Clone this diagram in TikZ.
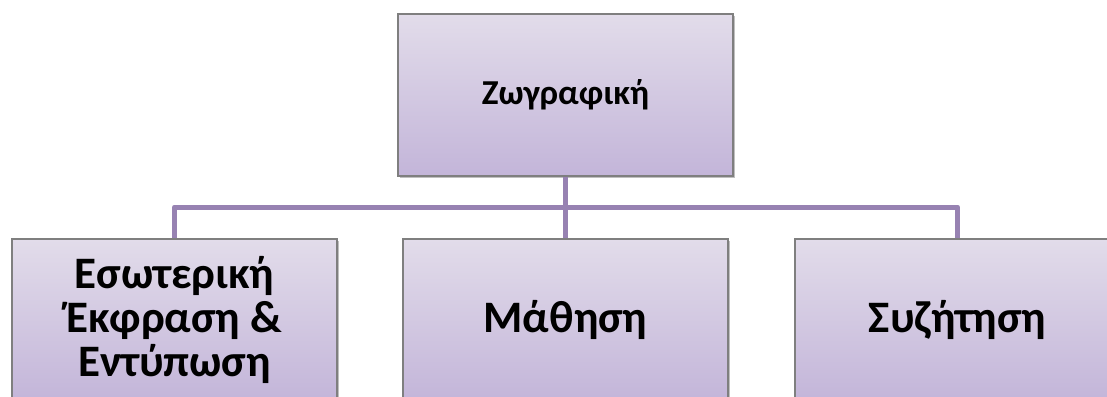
\documentclass[tikz,border=0pt]{standalone}
\usepackage{fontspec}
\setmainfont{Carlito}
\usetikzlibrary{shadows}
\definecolor{boxtop}{HTML}{E2DCEA}
\definecolor{boxbot}{HTML}{C3B5D9}
\definecolor{boxline}{HTML}{7F7F7F}
\definecolor{connc}{HTML}{9782B2}
\begin{document}
\begin{tikzpicture}[x=1pt,y=-1pt,
  box/.style={draw=boxline, line width=1.2pt, top color=boxtop, bottom color=boxbot,
    minimum width=325pt, minimum height=162pt, inner sep=0pt, align=center,
    font=\bfseries\fontsize{45}{44}\selectfont,
    drop shadow={shadow xshift=2pt, shadow yshift=-2pt, opacity=0.25, fill=black}},
  topbox/.style={box, minimum width=335pt, font=\bfseries\fontsize{35}{40}\selectfont},
  connector/.style={draw=connc, line width=5pt, line join=round}]
\useasboundingbox (0,0) rectangle (1107,396);
\clip (0,0) rectangle (1107,396);
\fill[white] (0,0) rectangle (1107,396);
\node[topbox] (top) at (565.5,95) {Ζωγραφική};
\node[box] (left) at (174.5,320) {Εσωτερική\\Έκφραση \&\\Εντύπωση};
\node[box] (mid) at (565.5,320) {Μάθηση};
\node[box] (right) at (957.5,320) {Συζήτηση};
\coordinate (hub) at (565.5,207);
\draw[connector] (top.south) -- (hub);
\draw[connector] (hub) -- (mid.north);
\draw[connector] (hub) -| (left.north);
\draw[connector] (hub) -| (right.north);
\end{tikzpicture}
\end{document}
